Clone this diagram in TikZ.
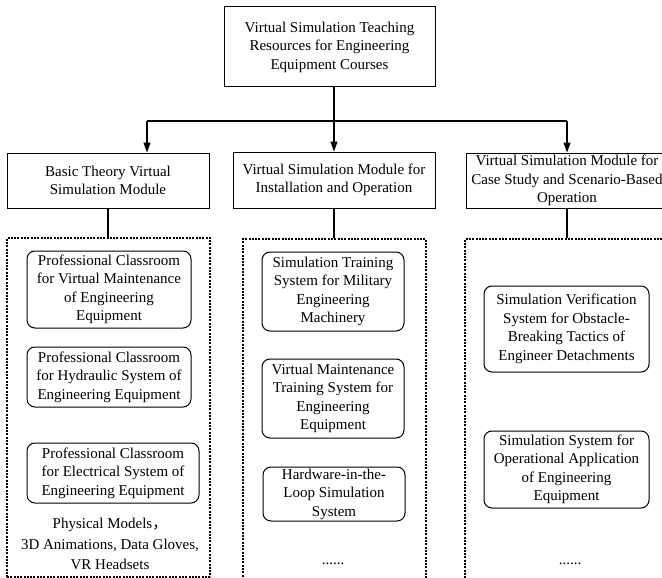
\documentclass[tikz,border=0pt]{standalone}
\usepackage{fontspec}
\setmainfont{Liberation Serif}
\newfontfamily\cjk{Noto Sans CJK SC}
\usetikzlibrary{arrows.meta}
\begin{document}
\begin{tikzpicture}[x=1pt,y=-1pt,
  every node/.style={font=\fontsize{15}{18.5}\selectfont, align=center, inner sep=0pt},
  mainbox/.style={draw, line width=1pt, rectangle},
  itembox/.style={draw, line width=1pt, rounded corners=8pt, rectangle},
  groupbox/.style={draw, line width=1.1pt, dash pattern=on 2pt off 1.3pt, rectangle},
  conn/.style={line width=1.1pt},
  arr/.style={line width=1.1pt, -{Triangle[length=10pt,width=7pt]}}
]
\useasboundingbox (0,0) rectangle (662,578);
\clip (0,0) rectangle (662,578);

% root
\node[mainbox, minimum width=211pt, minimum height=80pt] (root) at (329.5,47) {Virtual Simulation Teaching\\Resources for Engineering\\Equipment Courses};

% level 2
\node[mainbox, minimum width=202pt, minimum height=55pt] (l) at (108,180.5) {Basic Theory Virtual\\Simulation Module};
\node[mainbox, minimum width=202pt, minimum height=56pt] (m) at (334,180) {Virtual Simulation Module for\\Installation and Operation};
\node[mainbox, minimum width=202pt, minimum height=55pt] (r) at (567,180.5) {Virtual Simulation Module for\\Case Study and Scenario-Based\\Operation};

% connectors top
\coordinate (jl) at (147,121);
\coordinate (jr) at (567,121);
\draw[conn] (jl) -- (jr);
\draw[arr] (root.south -| m.north) -- (m.north);
\draw[arr] (jl) -- (jl |- l.north);
\draw[arr] (jr) -- (r.north);

% group boxes
\node[groupbox, minimum width=203pt, minimum height=339pt] (gl) at (108.5,407.5) {};
\node[groupbox, minimum width=183pt, minimum height=351pt] (gm) at (334.5,414.5) {};
\node[groupbox, minimum width=235pt, minimum height=351pt] (gr) at (582.5,414.5) {};

\draw[conn] (l.south) -- (l.south |- gl.north);
\draw[conn] (m.south) -- (m.south |- gm.north);
\draw[conn] (r.south) -- (r.south |- gr.north);

% left items
\node[itembox, minimum width=164pt, minimum height=77pt] (l1) at (109,289.5) {Professional Classroom\\for Virtual Maintenance\\of Engineering\\Equipment};
\node[itembox, minimum width=164pt, minimum height=60pt] (l2) at (109,377) {Professional Classroom\\for Hydraulic System of\\Engineering Equipment};
\node[itembox, minimum width=172pt, minimum height=60pt] (l3) at (113,473) {Professional Classroom\\for Electrical System of\\Engineering Equipment};
\node[font=\fontsize{15}{20.5}\selectfont] (l4) at (110,544) {Physical Models{\cjk ，}\\3D Animations, Data Gloves,\\VR Headsets};

% middle items
\node[itembox, minimum width=142pt, minimum height=79pt] (m1) at (333,291.5) {Simulation Training\\System for Military\\Engineering\\Machinery};
\node[itembox, minimum width=142pt, minimum height=79pt] (m2) at (333,398.5) {Virtual Maintenance\\Training System for\\Engineering\\Equipment};
\node[itembox, minimum width=142pt, minimum height=54pt] (m3) at (334,494) {Hardware-in-the-\\Loop Simulation\\System};
\node (m4) at (333,564) {......};

% right items
\node[itembox, minimum width=165pt, minimum height=86pt] (r1) at (566.5,329) {Simulation Verification\\System for Obstacle-\\Breaking Tactics of\\Engineer Detachments};
\node[itembox, minimum width=165pt, minimum height=77pt] (r2) at (566.5,469.5) {Simulation System for\\Operational Application\\of Engineering\\Equipment};
\node (r3) at (570,564) {......};
\end{tikzpicture}
\end{document}
